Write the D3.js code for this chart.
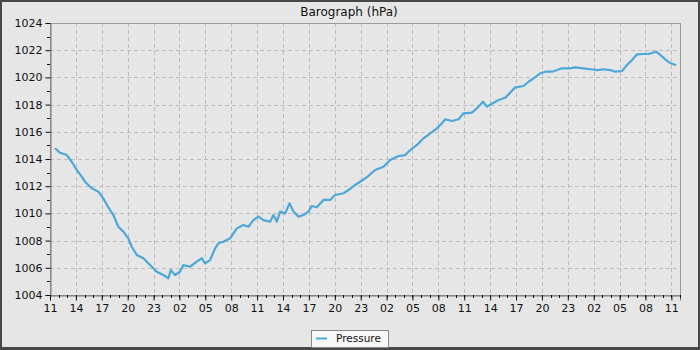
<!DOCTYPE html>
<html><head><meta charset="utf-8">
<script src="https://cdn.jsdelivr.net/npm/d3@7"></script>
<style>body{margin:0;background:#fff}svg{display:block}text{font-family:"DejaVu Sans",sans-serif;fill:#111}</style>
</head><body><svg id="c" width="700" height="350"></svg>
<script>
// hours since first tick (day 1, 11:00)
const hours = [0.58,1.16,1.94,2.52,3.10,3.68,4.06,4.83,5.60,6.18,6.76,7.34,7.92,8.50,9.08,9.47,10.05,10.82,11.59,12.37,13.14,13.72,13.99,14.49,15.07,15.45,16.23,17.01,17.59,17.97,18.55,19.13,19.51,20.09,20.87,21.65,22.41,22.99,23.57,24.15,24.73,25.51,25.89,26.28,26.67,27.25,27.75,28.21,28.79,29.37,29.95,30.34,30.92,31.69,32.46,33.04,34.01,34.59,35.36,35.94,36.80,37.68,38.64,39.42,40.38,41.16,41.74,42.52,43.28,44.06,44.84,45.41,45.80,46.57,47.34,47.92,48.89,49.47,50.17,50.63,51.40,51.98,52.75,53.91,54.88,55.45,56.03,56.81,57.39,58.17,58.75,59.33,60.29,60.87,61.83,62.61,63.39,64.15,64.93,65.51,66.28,66.86,67.44,68.02,68.79,69.37,70.23,70.72,71.30,71.88,72.55];
const pressure = [1014.79,1014.46,1014.29,1013.80,1013.19,1012.70,1012.33,1011.85,1011.60,1011.10,1010.45,1009.88,1009.02,1008.66,1008.17,1007.55,1006.94,1006.70,1006.20,1005.71,1005.47,1005.23,1005.84,1005.47,1005.71,1006.20,1006.08,1006.45,1006.70,1006.33,1006.57,1007.43,1007.80,1007.92,1008.17,1008.90,1009.15,1009.02,1009.51,1009.76,1009.51,1009.39,1009.88,1009.39,1010.13,1010.00,1010.74,1010.13,1009.76,1009.88,1010.13,1010.54,1010.45,1010.99,1010.99,1011.35,1011.48,1011.72,1012.09,1012.33,1012.70,1013.19,1013.43,1013.93,1014.22,1014.29,1014.66,1015.03,1015.52,1015.89,1016.26,1016.62,1016.92,1016.79,1016.92,1017.36,1017.41,1017.73,1018.21,1017.85,1018.14,1018.34,1018.50,1019.27,1019.37,1019.68,1019.93,1020.30,1020.42,1020.42,1020.54,1020.67,1020.67,1020.74,1020.67,1020.60,1020.54,1020.60,1020.54,1020.42,1020.47,1020.91,1021.28,1021.70,1021.72,1021.72,1021.89,1021.65,1021.33,1021.04,1020.91];
const yTicks = [1004,1006,1008,1010,1012,1014,1016,1018,1020,1022,1024];
const startTime = new Date(2024,0,1,11,0,0);
const endTime = new Date(2024,0,4,12,0,0);
const title = "Barograph (hPa)";
const seriesName = "Pressure";

const svg = d3.select("#c");
const W=700,H=350, L=50,R=680,T=23,B=295;
svg.append("rect").attr("width",W).attr("height",H).attr("fill","#474747");
svg.append("rect").attr("x",2).attr("y",2).attr("width",696).attr("height",345).attr("fill","#e6e6e6");

const x = d3.scaleTime().domain([startTime,endTime]).range([L,R]);
const y = d3.scaleLinear().domain([1004,1024]).range([B,T]);
const data = hours.map((h,i)=>({t:new Date(+startTime+h*3600e3),p:pressure[i]}));
const spanH = (endTime-startTime)/3600e3;
const majorX = d3.range(0,spanH+0.01,3).map(h=>new Date(+startTime+h*3600e3));
const minorX = d3.range(0,spanH+0.01,1).map(h=>new Date(+startTime+h*3600e3));

// grid
const g = svg.append("g");
g.selectAll(".vg").data(majorX.slice(1)).join("line")
 .attr("x1",d=>Math.round(x(d))+0.5).attr("x2",d=>Math.round(x(d))+0.5).attr("y1",T).attr("y2",B)
 .attr("stroke","#bdbdbd").attr("stroke-dasharray","4,3");
g.selectAll(".hg").data(yTicks.slice(1,-1)).join("line")
 .attr("x1",L).attr("x2",R).attr("y1",d=>Math.round(y(d))+0.5).attr("y2",d=>Math.round(y(d))+0.5)
 .attr("stroke","#bdbdbd").attr("stroke-dasharray","4,3");

// frame
svg.append("rect").attr("x",L+0.5).attr("y",T+0.5).attr("width",R-L).attr("height",B-T)
 .attr("fill","none").attr("stroke","#9a9a9a");

// y axis
const yAxis = d3.axisLeft(y).tickValues(yTicks).tickFormat(d3.format("d")).tickSize(5).tickPadding(3);
const ya = svg.append("g").attr("transform",`translate(${L+0.5},0)`).call(yAxis);
ya.select(".domain").attr("stroke","#777");
ya.selectAll("line").attr("stroke","#111");
ya.selectAll("text").attr("font-size",11).attr("font-family","DejaVu Sans").attr("fill","#111");
const yMinor = d3.range(1005,1024,2);
svg.append("g").selectAll("line").data(yMinor).join("line")
 .attr("x1",L-3).attr("x2",L).attr("y1",d=>Math.round(y(d))+0.5).attr("y2",d=>Math.round(y(d))+0.5).attr("stroke","#111");

// x axis
const xAxis = d3.axisBottom(x).tickValues(majorX).tickFormat(d3.timeFormat("%H")).tickSize(5).tickPadding(4);
const xa = svg.append("g").attr("transform",`translate(0,${B+0.5})`).call(xAxis);
xa.select(".domain").attr("stroke","#777");
xa.selectAll("line").attr("stroke","#111");
xa.selectAll("text").attr("font-size",11).attr("font-family","DejaVu Sans").attr("fill","#111");
svg.append("g").selectAll("line").data(minorX).join("line")
 .attr("x1",d=>Math.round(x(d))+0.5).attr("x2",d=>Math.round(x(d))+0.5).attr("y1",B).attr("y2",B+3).attr("stroke","#111");

// line
const line = d3.line().x(d=>x(d.t)).y(d=>y(d.p));
svg.append("path").datum(data).attr("d",line).attr("fill","none")
 .attr("stroke","#4ba8d8").attr("stroke-width",2.2).attr("stroke-linejoin","round");

// title
svg.append("text").attr("x",349).attr("y",16).attr("text-anchor","middle").attr("font-size",12).text(title);

// legend
const lg = svg.append("g");
lg.append("rect").attr("x",311.5).attr("y",330.5).attr("width",77).attr("height",17).attr("fill","#f7f7f7").attr("stroke","#888");
lg.append("line").attr("x1",316).attr("x2",327).attr("y1",338.5).attr("y2",338.5).attr("stroke","#4ba8d8").attr("stroke-width",2);
lg.append("text").attr("x",336).attr("y",342).attr("font-size",10.5).text(seriesName);
</script></body></html>
